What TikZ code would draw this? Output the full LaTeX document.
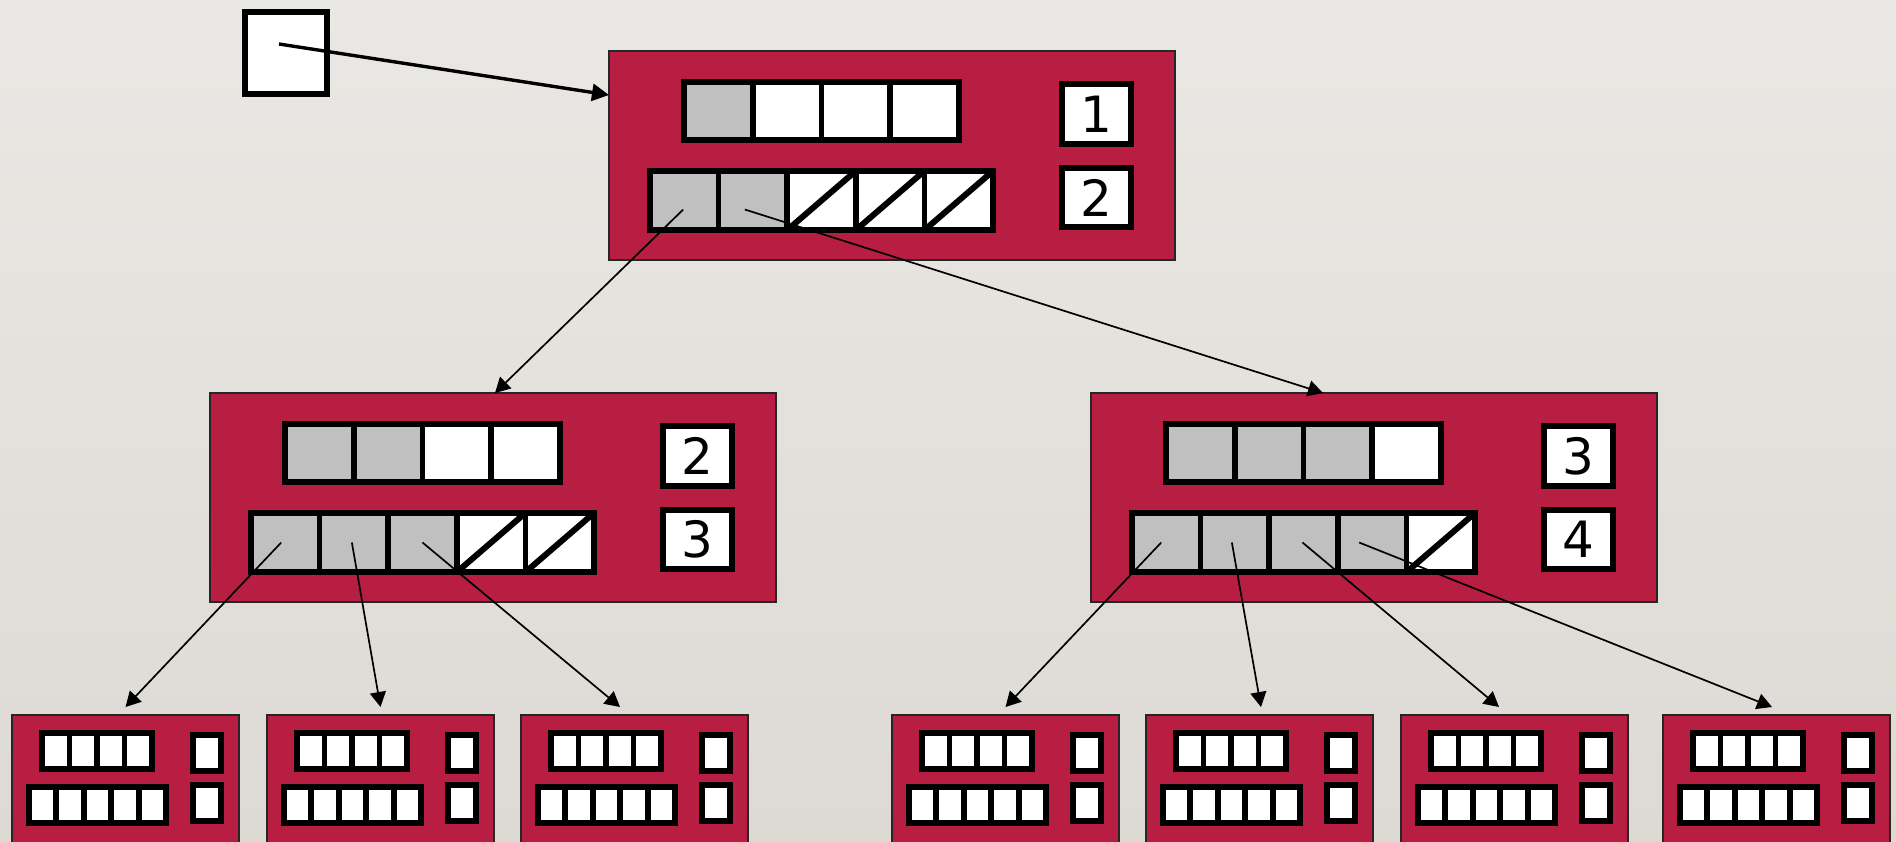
\documentclass[tikz,border=0pt]{standalone}
\usepackage{fontspec}
\setmainfont{DejaVu Sans}
\usetikzlibrary{calc,arrows.meta}
\definecolor{crim}{RGB}{183,30,66}
\definecolor{cellgrey}{RGB}{192,192,192}
\definecolor{bgtop}{RGB}{234,232,228}
\definecolor{bgbot}{RGB}{221,218,212}
\tikzset{
 bignode/.style={draw=black!85, line width=0.7pt, fill=crim, inner sep=0, outer sep=0, minimum width=283pt, minimum height=104.5pt, anchor=north west},
 smallnode/.style={draw=black!85, line width=0.7pt, fill=crim, inner sep=0, outer sep=0, minimum width=113.5pt, minimum height=75pt, anchor=north west},
 cellB/.style={draw=black, line width=2.9pt, inner sep=0, outer sep=0, anchor=north west},
 cellS/.style={draw=black, line width=2.8pt, inner sep=0, outer sep=0, anchor=north west, fill=white},
 cg/.style={fill=cellgrey},
 cw/.style={fill=white},
 ch/.style={fill=white, path picture={\draw[line width=3pt] (path picture bounding box.south west) -- (path picture bounding box.north east);}},
 lbl/.style={font=\fontsize{25}{25}\selectfont},
 ptr/.style={-{Triangle[length=7.5pt,width=8pt]}, line width=0.85pt},
 bigptr/.style={-{Triangle[length=8.5pt,width=8.5pt]}, line width=1.7pt},
}
\newcommand\BigBox[7]{%
  \node[bignode] (#1) at (#2,#3) {};
  \foreach[count=\i] \t in {#4}{
    \node[cellB, \t, minimum width=34.4pt, minimum height=29.1pt] (#1-t\i) at ({#2+74.9+(\i-1)*68.8},{#3+30.9}) {};
  }
  \foreach[count=\i] \t in {#5}{
    \node[cellB, \t, minimum width=34.32pt, minimum height=29.6pt] (#1-b\i) at ({#2+40.9+(\i-1)*68.64},{#3+119.9}) {};
  }
  \node[cellB, fill=white, minimum width=34.6pt, minimum height=30pt, lbl] (#1-l1) at ({#2+452.9},{#3+32.9}) {#6};
  \node[cellB, fill=white, minimum width=34.6pt, minimum height=29.6pt, lbl] (#1-l2) at ({#2+452.9},{#3+116.9}) {#7};
}
\newcommand\SmallBox[3]{%
  \node[smallnode] (#1) at (#2,#3) {};
  \foreach \i in {1,...,4}{
    \node[cellS, minimum width=13.8pt, minimum height=18.2pt] (#1-t\i) at ({#2+29.8+(\i-1)*27.6},{#3+17.8}) {};
  }
  \foreach \i in {1,...,5}{
    \node[cellS, minimum width=13.74pt, minimum height=18.2pt] (#1-b\i) at ({#2+16.8+(\i-1)*27.48},{#3+71.8}) {};
  }
  \node[cellS, minimum width=14.2pt, minimum height=18.2pt] (#1-l1) at ({#2+180.8},{#3+19.8}) {};
  \node[cellS, minimum width=14.2pt, minimum height=18.2pt] (#1-l2) at ({#2+180.8},{#3+69.8}) {};
}
\begin{document}
\begin{tikzpicture}[x=0.5pt, y=-0.5pt]
\useasboundingbox (0,0) rectangle (1896,841);
\clip (0,0) rectangle (1896,841);
\shade[top color=bgtop, bottom color=bgbot] (0,0) rectangle (1896,841);

% pointer box
\node[draw=black, line width=3pt, fill=white, inner sep=0, outer sep=0, minimum width=41pt, minimum height=41pt, anchor=north west] (sbox) at (245,12) {};

\BigBox{root}{609}{51}{cg,cw,cw,cw}{cg,cg,ch,ch,ch}{1}{2}
\BigBox{mL}{210}{393}{cg,cg,cw,cw}{cg,cg,cg,ch,ch}{2}{3}
\BigBox{mR}{1091}{393}{cg,cg,cg,cw}{cg,cg,cg,cg,ch}{3}{4}

\SmallBox{s1}{12}{715}
\SmallBox{s2}{267}{715}
\SmallBox{s3}{521}{715}
\SmallBox{s4}{892}{715}
\SmallBox{s5}{1146}{715}
\SmallBox{s6}{1401}{715}
\SmallBox{s7}{1663}{715}

\draw[bigptr] ($(sbox.center)+(-7,-9)$) -- ($(root.north west)+(0,44)$);

\draw[ptr] ($(root-b1.center)+(-1,9)$) -- ($(mL.north)+(2,0)$);
\draw[ptr] ($(root-b2.center)+(-8,9)$) -- ($(mR.north)+(-51,0)$);

\draw[ptr] ($(mL-b1.center)+(-4,0)$) -- ($(s1.north)+(0,-8)$);
\draw[ptr] ($(mL-b2.center)+(-2,0)$) -- ($(s2.north)+(0,-8)$);
\draw[ptr] (mL-b3.center) -- ($(s3.north)+(-14.5,-8)$);

\draw[ptr] ($(mR-b1.center)+(-5,0)$) -- ($(s4.north)+(0,-8)$);
\draw[ptr] ($(mR-b2.center)+(-3,0)$) -- ($(s5.north)+(1.5,-8)$);
\draw[ptr] ($(mR-b3.center)+(-1,0)$) -- ($(s6.north)+(-15.5,-8)$);
\draw[ptr] ($(mR-b4.center)+(-13,0)$) -- ($(s7.north)+(-4.5,-8)$);
\end{tikzpicture}
\end{document}
